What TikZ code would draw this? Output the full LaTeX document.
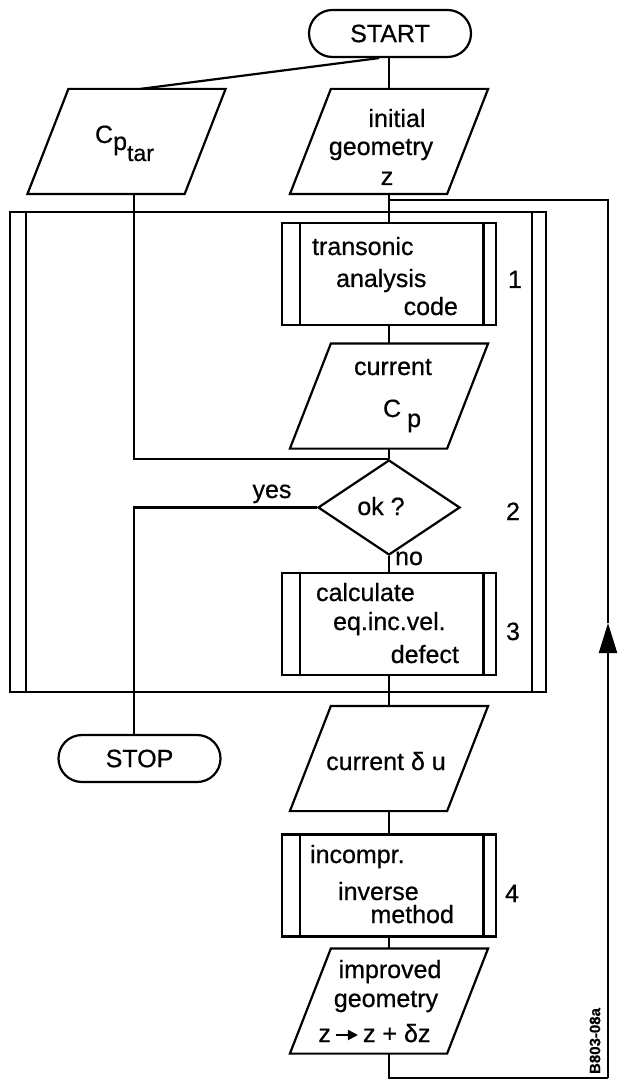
\documentclass[tikz,border=0pt]{standalone}
\usepackage{fontspec}
\setmainfont{Liberation Sans}[FakeBold=0.6]
\usetikzlibrary{shapes.geometric,arrows.meta}
\newcommand\drawio[1]{\draw ([xshift=20.5pt]#1.north west) -- (#1.north east) -- ([xshift=-20.5pt]#1.south east) -- (#1.south west) -- cycle;}
\newcommand\smallarrow{\tikz[baseline=0pt,x=1pt,y=1pt]\draw[line width=0.9pt,-{Triangle[length=5pt,width=5pt]}] (0,3.5) -- (11,3.5);}
\begin{document}
\begin{tikzpicture}[x=0.5pt,y=-0.5pt,line width=1.1pt,
  font=\fontsize{12.5}{15}\selectfont,
  term/.style={draw, rounded corners=11.7pt, minimum width=81pt, minimum height=23.5pt, inner sep=0pt},
  io/.style={minimum width=98pt, minimum height=51.5pt, inner sep=0pt},
  proc/.style={draw, minimum width=107pt, minimum height=51pt, inner sep=0pt,
    path picture={\draw[line width=1.1pt]
      ([xshift=9pt]path picture bounding box.north west) -- ([xshift=9pt]path picture bounding box.south west)
      ([xshift=-6.3pt]path picture bounding box.north east) -- ([xshift=-6.3pt]path picture bounding box.south east);}},
  dec/.style={draw, diamond, minimum width=71pt, minimum height=47.5pt, inner sep=0pt},
  txt/.style={inner sep=0pt, anchor=base},
  txtl/.style={inner sep=0pt, anchor=base west},
  txtr/.style={inner sep=0pt, anchor=base east},
  loopframe/.style={draw, line width=1.3pt, minimum width=268pt, minimum height=240pt, inner sep=0pt,
    path picture={\draw[line width=1.3pt]
      ([xshift=8pt]path picture bounding box.north west) -- ([xshift=8pt]path picture bounding box.south west)
      ([xshift=-7pt]path picture bounding box.north east) -- ([xshift=-7pt]path picture bounding box.south east);}}
]
\useasboundingbox (0,0) rectangle (618,1080);

% frame of the iteration loop
\node[loopframe] (loop) at (278,452) {};

% main nodes
\node[term] (start) at (390,33.5) {START};
\node[io] (cptar) at (126.5,141.5) {};
\drawio{cptar}
\node[io] (init) at (389,141.5) {};
\drawio{init}
\node[proc, fill=white] (trans) at (389,274) {};
\node[io] (curcp) at (389,396) {};
\drawio{curcp}
\node[dec] (ok) at (389,507.5) {};
\node[proc] (calc) at (389,624) {};
\node[term] (stop) at (139.5,758.5) {STOP};
\node[io] (curdu) at (389,758.5) {};
\drawio{curdu}
\node[proc] (incomp) at (389,885.5) {};
\node[io] (improved) at (389,1001) {};
\drawio{improved}

% helper coordinates
\coordinate (colL) at (134,0);
\coordinate (j1) at (389,200);
\coordinate (tr) at (608,200);
\coordinate (tip) at (608,623);
\coordinate (br) at (608,1078);
\coordinate (bl) at (389,1078);

% connectors
\draw ([xshift=-5.5pt]start.south) -- ([xshift=7pt]cptar.north);
\draw (start.south -| init.north) -- (init.north);
\draw (init.south) -- (trans.north);
\draw (trans.south) -- (curcp.north);
\draw (curcp.south) -- (ok.north);
\draw (cptar.south -| colL) |- (ok.north);
\draw (ok.west) -| (stop.north -| colL);
\draw (ok.south) -- (calc.north);
\draw (calc.south) -- (curdu.north);
\draw (curdu.south) -- (incomp.north);
\draw (incomp.south) -- (improved.north);
\draw (improved.south) -- (bl) -- (br);
\draw[-{Triangle[length=15pt,width=9pt]}] (br) -- (tip);
\draw (tip) -- (tr) -- (j1);

% texts
\node[txtl] (tcp) at (94,143) {C\raisebox{-3.5pt}{p\raisebox{-5.5pt}{\fontsize{11.5}{12}\selectfont tar}}};
\node[txt] (ti1) at (397,127) {initial};
\node[txt] (ti2) at (381,155) {geometry};
\node[txt] (ti3) at (387,185) {z};
\node[txtl] (tt1) at (311,255) {transonic};
\node[txtl] (tt2) at (335,287) {analysis};
\node[txtr] (tt3) at (459,315) {code};
\node[txt] (n1) at (515,288) {1};
\node[txt] (tc1) at (393,375) {current};
\node[txtl] (tc2) at (382,417) {C\hspace{3pt}\raisebox{-5pt}{p}};
\node[txt] (tok) at (381,515) {ok ?};
\node[txt] (tyes) at (272,498) {yes};
\node[txtl] (tno) at (394,565) {no};
\node[txt] (n2) at (513,520) {2};
\node[txtl] (tk1) at (315,601) {calculate};
\node[txtl] (tk2) at (332,630) {eq.inc.vel.};
\node[txtr] (tk3) at (460,663) {defect};
\node[txt] (n3) at (513,640) {3};
\node[txt] (tdu) at (386,770) {current δ u};
\node[txtl] (tm1) at (309,863) {incompr.};
\node[txtl] (tm2) at (337,900) {inverse};
\node[txtr] (tm3) at (455,923) {method};
\node[txt] (n4) at (512,902) {4};
\node[txt] (tg1) at (390,978) {improved};
\node[txt] (tg2) at (386,1007) {geometry};
\node[txtl] (tg3) at (318,1042) {z\,\smallarrow\,z + δz};
\node[rotate=90, inner sep=0pt, font=\fontsize{7.5}{9}\selectfont\bfseries] (code) at (595,1041) {B803-08a};
\end{tikzpicture}
\end{document}
